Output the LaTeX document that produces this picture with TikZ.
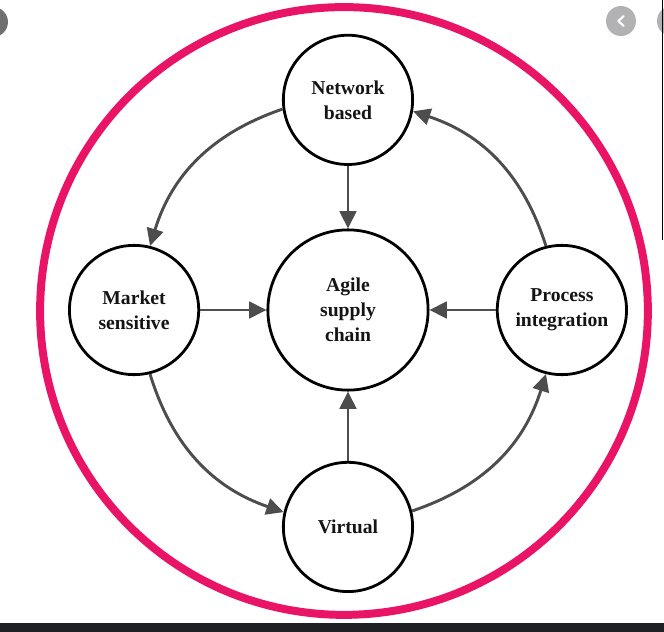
\documentclass[tikz,border=0pt]{standalone}
\usepackage{fontspec}
\setmainfont{Liberation Serif}
\usetikzlibrary{arrows.meta}
\definecolor{rim}{HTML}{E91466}
\definecolor{arrowgray}{HTML}{4D4D4D}
\definecolor{barblack}{HTML}{1F2023}
\definecolor{btngray}{HTML}{B2B2B4}
\definecolor{edgegray}{HTML}{707070}
\tikzset{
  hub/.style={circle,draw=black,line width=2.1pt,minimum size=3.42cm,inner sep=0pt,
    align=center,text=black!92,font=\bfseries\fontsize{14.8}{18.8}\selectfont},
  core/.style={hub,minimum size=4.24cm},
  flow/.style={draw=arrowgray,line width=2.2pt,-{Triangle[length=13pt,width=12.5pt]}},
}
\begin{document}
\begin{tikzpicture}
	\useasboundingbox (-9.207,-8.519) rectangle (8.361,8.202);
	\def\d{5.66}
	% screen bits round the figure
	\fill[barblack] (-9.207,-8.519) rectangle (8.361,-8.281);
	\fill[edgegray] (-9.393,7.620) circle (.397);
	\fill[btngray] (7.223,7.646) circle (.397) (8.572,7.646) circle (.397);
	\draw[white,line width=1.6pt,line cap=round,line join=round]
	(7.293,7.776)--(7.153,7.646)--(7.293,7.516);
	\draw[black,line width=.75pt] (8.326,8.202)--(8.326,1.85);
	% ring
	\draw[rim,line width=6pt] (-0.106,-0.026) circle (8.04);
	\node[core] (ag) at (0,0) {Agile\\supply\\chain};
	\node[hub] (nb) at (0,5.56) {Network\\based};
	\node[hub] (ms) at (180:\d) {Market\\sensitive};
	\node[hub] (vt) at (0,-5.74) {Virtual};
	\node[hub] (pi) at (0:\d) {Process\\integration};
	\foreach \s in {nb,ms,vt,pi} \draw[flow] (\s)--(ag);
	\foreach \s/\a/\t/\b in {nb/188/ms/76,ms/284/vt/167,vt/14/pi/256,pi/104/nb/350}
	\draw[flow] (\s.\a) to[bend right=27] (\t.\b);
\end{tikzpicture}
\end{document}
